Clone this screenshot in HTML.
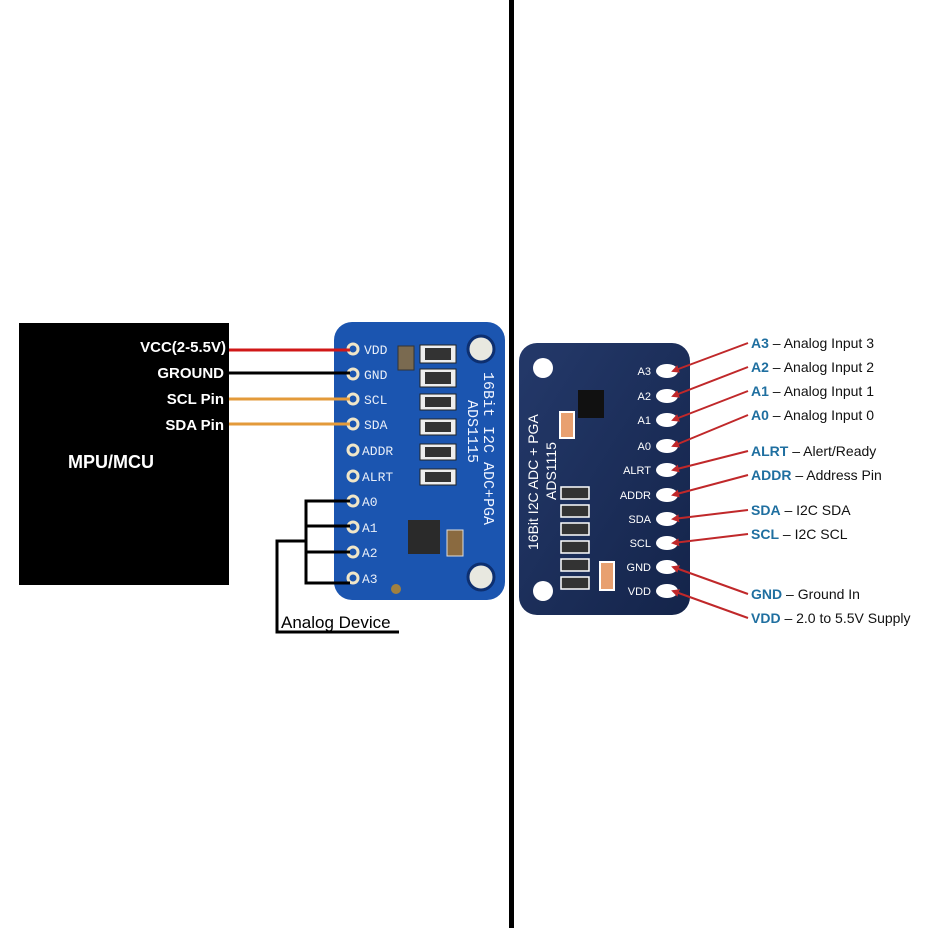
<!DOCTYPE html>
<html><head><style>html,body{margin:0;padding:0;background:#fff}svg{display:block}</style></head>
<body>
<svg width="928" height="928" viewBox="0 0 928 928" xmlns="http://www.w3.org/2000/svg" font-family="Liberation Sans, sans-serif">
<defs>
<linearGradient id="rb" x1="0" y1="0" x2="1" y2="1"><stop offset="0" stop-color="#24396a"/><stop offset="1" stop-color="#14244a"/></linearGradient>
<marker id="ar" markerWidth="8" markerHeight="8" refX="6" refY="4" orient="auto" markerUnits="userSpaceOnUse"><path d="M0,0 L8,4 L0,8 z" fill="#c0282a"/></marker>
</defs>
<rect x="509" y="0" width="5" height="928" fill="#000"/>
<!-- MCU -->
<rect x="19" y="323" width="210" height="262" fill="#000"/>
<g fill="#fff" font-weight="bold" font-size="15" text-anchor="end">
<text x="226" y="352">VCC(2-5.5V)</text><text x="224" y="378">GROUND</text>
<text x="224" y="404">SCL Pin</text><text x="224" y="430">SDA Pin</text></g>
<text x="68" y="468" fill="#fff" font-weight="bold" font-size="18">MPU/MCU</text>
<!-- left board -->
<rect x="334" y="322" width="171" height="278" rx="18" fill="#1b55b0"/>
<circle cx="481" cy="349" r="13" fill="#e8e8e0" stroke="#0d2f70" stroke-width="3"/>
<circle cx="481" cy="577" r="13" fill="#e8e8e0" stroke="#0d2f70" stroke-width="3"/>
<g fill="none" stroke="#f0e6c8" stroke-width="3">
<circle cx="353" cy="349" r="5"/><circle cx="353" cy="374" r="5"/><circle cx="353" cy="399" r="5"/><circle cx="353" cy="424" r="5"/><circle cx="353" cy="450" r="5"/><circle cx="353" cy="476" r="5"/><circle cx="353" cy="501" r="5"/><circle cx="353" cy="527" r="5"/><circle cx="353" cy="552" r="5"/><circle cx="353" cy="578" r="5"/></g>
<g fill="#e8eef8" font-family="Liberation Mono, monospace" font-size="13">
<text x="364" y="354">VDD</text><text x="364" y="379">GND</text><text x="364" y="404">SCL</text><text x="364" y="429">SDA</text><text x="362" y="455">ADDR</text><text x="362" y="481">ALRT</text><text x="362" y="506">A0</text><text x="362" y="532">A1</text><text x="362" y="557">A2</text><text x="362" y="583">A3</text></g>
<g fill="#eee" stroke="#222" stroke-width="1">
<rect x="420" y="345" width="36" height="18"/><rect x="420" y="369" width="36" height="18"/><rect x="420" y="394" width="36" height="16"/><rect x="420" y="419" width="36" height="16"/><rect x="420" y="444" width="36" height="16"/><rect x="420" y="469" width="36" height="16"/></g>
<g fill="#333"><rect x="425" y="348" width="26" height="12"/><rect x="425" y="372" width="26" height="12"/><rect x="425" y="397" width="26" height="10"/><rect x="425" y="422" width="26" height="10"/><rect x="425" y="447" width="26" height="10"/><rect x="425" y="472" width="26" height="10"/></g>
<rect x="398" y="346" width="16" height="24" fill="#7a6a50" stroke="#333"/>
<rect x="408" y="520" width="32" height="34" fill="#2a2a2a"/>
<rect x="447" y="530" width="16" height="26" fill="#8a6a40" stroke="#ddd"/>
<circle cx="396" cy="589" r="5" fill="#a08040"/>
<text transform="translate(484,372) rotate(90)" fill="#f0f4ff" font-family="Liberation Mono, monospace" font-size="15">16Bit I2C ADC+PGA</text>
<text transform="translate(468,400) rotate(90)" fill="#f0f4ff" font-family="Liberation Mono, monospace" font-size="15">ADS1115</text>
<!-- wires -->
<line x1="229" y1="350" x2="350" y2="350" stroke="#d01818" stroke-width="3"/>
<line x1="229" y1="373" x2="350" y2="373" stroke="#000" stroke-width="3"/>
<line x1="229" y1="399" x2="350" y2="399" stroke="#e39a3a" stroke-width="3"/>
<line x1="229" y1="424" x2="350" y2="424" stroke="#e39a3a" stroke-width="3"/>
<g stroke="#000" stroke-width="3" fill="none">
<path d="M350 501 H306 V583 H350"/><path d="M306 526 H350"/><path d="M306 552 H350"/>
<path d="M306 541 H277 V632 H399"/></g>
<text x="281" y="628" font-size="17" fill="#000">Analog Device</text>
<!-- right board -->
<rect x="519" y="343" width="171" height="272" rx="18" fill="url(#rb)"/>
<circle cx="543" cy="368" r="10" fill="#fff"/><circle cx="543" cy="591" r="10" fill="#fff"/>
<rect x="578" y="390" width="26" height="28" fill="#111"/>
<rect x="560" y="412" width="14" height="26" fill="#e8a070" stroke="#fff" stroke-width="2"/>
<g fill="#333" stroke="#fff" stroke-width="1.5">
<rect x="561" y="487" width="28" height="12"/><rect x="561" y="505" width="28" height="12"/><rect x="561" y="523" width="28" height="12"/><rect x="561" y="541" width="28" height="12"/><rect x="561" y="559" width="28" height="12"/><rect x="561" y="577" width="28" height="12"/></g>
<rect x="600" y="562" width="14" height="28" fill="#e8a070" stroke="#fff" stroke-width="2"/>
<text transform="translate(538,550) rotate(-90)" fill="#fff" font-size="14">16Bit I2C ADC + PGA</text>
<text transform="translate(556,500) rotate(-90)" fill="#fff" font-size="14">ADS1115</text>
<g fill="#fff"><ellipse cx="667" cy="371" rx="11" ry="7"/><ellipse cx="667" cy="396" rx="11" ry="7"/><ellipse cx="667" cy="420" rx="11" ry="7"/><ellipse cx="667" cy="446" rx="11" ry="7"/><ellipse cx="667" cy="470" rx="11" ry="7"/><ellipse cx="667" cy="495" rx="11" ry="7"/><ellipse cx="667" cy="519" rx="11" ry="7"/><ellipse cx="667" cy="543" rx="11" ry="7"/><ellipse cx="667" cy="567" rx="11" ry="7"/><ellipse cx="667" cy="591" rx="11" ry="7"/></g>
<g fill="#fff" font-size="11" text-anchor="end">
<text x="651" y="375">A3</text><text x="651" y="400">A2</text><text x="651" y="424">A1</text><text x="651" y="450">A0</text><text x="651" y="474">ALRT</text><text x="651" y="499">ADDR</text><text x="651" y="523">SDA</text><text x="651" y="547">SCL</text><text x="651" y="571">GND</text><text x="651" y="595">VDD</text></g>
<g stroke="#c0282a" stroke-width="2" marker-end="url(#ar)">
<line x1="748" y1="343" x2="673" y2="371"/><line x1="748" y1="367" x2="673" y2="396"/><line x1="748" y1="391" x2="673" y2="420"/><line x1="748" y1="415" x2="673" y2="446"/><line x1="748" y1="451" x2="673" y2="470"/><line x1="748" y1="475" x2="673" y2="495"/><line x1="748" y1="510" x2="673" y2="519"/><line x1="748" y1="534" x2="673" y2="543"/><line x1="748" y1="594" x2="673" y2="567"/><line x1="748" y1="618" x2="673" y2="591"/></g>
<g font-size="14" fill="#111">
<text x="751" y="348"><tspan fill="#1f6fa0" font-weight="bold">A3</tspan> – Analog Input 3</text>
<text x="751" y="372"><tspan fill="#1f6fa0" font-weight="bold">A2</tspan> – Analog Input 2</text>
<text x="751" y="396"><tspan fill="#1f6fa0" font-weight="bold">A1</tspan> – Analog Input 1</text>
<text x="751" y="420"><tspan fill="#1f6fa0" font-weight="bold">A0</tspan> – Analog Input 0</text>
<text x="751" y="456"><tspan fill="#1f6fa0" font-weight="bold">ALRT</tspan> – Alert/Ready</text>
<text x="751" y="480"><tspan fill="#1f6fa0" font-weight="bold">ADDR</tspan> – Address Pin</text>
<text x="751" y="515"><tspan fill="#1f6fa0" font-weight="bold">SDA</tspan> – I2C SDA</text>
<text x="751" y="539"><tspan fill="#1f6fa0" font-weight="bold">SCL</tspan> – I2C SCL</text>
<text x="751" y="599"><tspan fill="#1f6fa0" font-weight="bold">GND</tspan> – Ground In</text>
<text x="751" y="623"><tspan fill="#1f6fa0" font-weight="bold">VDD</tspan> – 2.0 to 5.5V Supply</text></g>
</svg>
</body></html>
